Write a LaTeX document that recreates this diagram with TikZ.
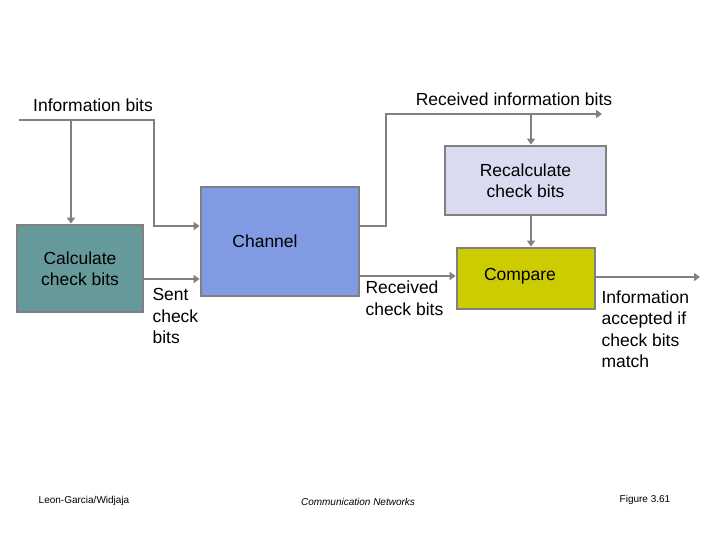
\documentclass[tikz,border=0pt]{standalone}
\usepackage{fontspec}
\setmainfont{Liberation Sans}
\usetikzlibrary{arrows.meta}

\definecolor{edgegray}{RGB}{128,128,128}
\definecolor{chanblue}{RGB}{128,155,228}
\definecolor{calcteal}{RGB}{102,153,153}
\definecolor{recalclilac}{RGB}{218,218,240}
\definecolor{cmpyellow}{RGB}{204,204,0}

\begin{document}
\begin{tikzpicture}[x = 1pt, y = -1pt,
		box/.style = {draw = edgegray, line width = 2.8pt, align = center, inner sep = 0pt},
		big/.style = {font = \fontsize{17.5}{21.5}\selectfont},
		small/.style = {font = \fontsize{10}{12}\selectfont}]
		\useasboundingbox (0,0) rectangle (720,540);

		\node [box, big, fill = calcteal, minimum width = 126pt, minimum height = 87pt] (calc) at (80,268.5) {Calculate\\check bits};
		\node [box, big, fill = chanblue, minimum width = 158pt, minimum height = 109pt] (chan) at (280,241.5) {Channel\hspace*{30pt}};
		\node [box, big, fill = recalclilac, minimum width = 161pt, minimum height = 69pt] (recalc) at (525.5,180.5) {Recalculate\\check bits};
		\node [box, big, fill = cmpyellow, minimum width = 138pt, minimum height = 61pt] (cmp) at (526,278.5) {\raisebox{9pt}{Compare}\hspace*{12pt}};

		\node [big] (infoLbl) at (93,105) {Information bits};
		\node [big] (rinfoLbl) at (514,99) {Received information bits};
		\node [big, anchor = west, align = left] (sentLbl) at (149,316) {Sent\\check\\bits};
		\node [big, anchor = west, align = left] (rcheckLbl) at (362,298) {Received\\check bits};
		\node [big, anchor = west, align = left] (acceptLbl) at (598,329) {Information\\accepted if\\check bits\\match};

		\node [small] (author) at (84,501) {Leon-Garcia/Widjaja};
		\node [small, font = \fontsize{10}{12}\selectfont\itshape] (book) at (358,502) {Communication Networks};
		\node [small] (fig) at (645,500) {Figure 3.61};

		\coordinate (infoL) at (19,120);
		\coordinate (infoDrop) at (71,120);
		\coordinate (infoR) at (154,120);
		\coordinate (rinfoUp) at (386,114);
		\coordinate (rinfoDrop) at (531,114);
		\coordinate (rinfoEnd) at (602,114);
		\coordinate (acceptEnd) at (700,277);

		\begin{scope}[draw = edgegray, line width = 2.8pt, -{Triangle[length = 6pt, width = 8pt]}]
			\draw (infoL) -- (infoR) -- (infoR |- 0,226) -- (chan.west |- 0,226);
			\draw (infoDrop) -- (infoDrop |- calc.north);
			\draw (calc.east |- 0,279) -- (chan.west |- 0,279);
			\draw (chan.east |- 0,226) -- (rinfoUp |- 0,226) -- (rinfoUp) -- (rinfoEnd);
			\draw (rinfoDrop) -- (rinfoDrop |- recalc.north);
			\draw (rinfoDrop |- recalc.south) -- (rinfoDrop |- cmp.north);
			\draw (chan.east |- 0,276) -- (cmp.west |- 0,276);
			\draw (cmp.east |- 0,277) -- (acceptEnd);
		\end{scope}
	\end{tikzpicture}
\end{document}
